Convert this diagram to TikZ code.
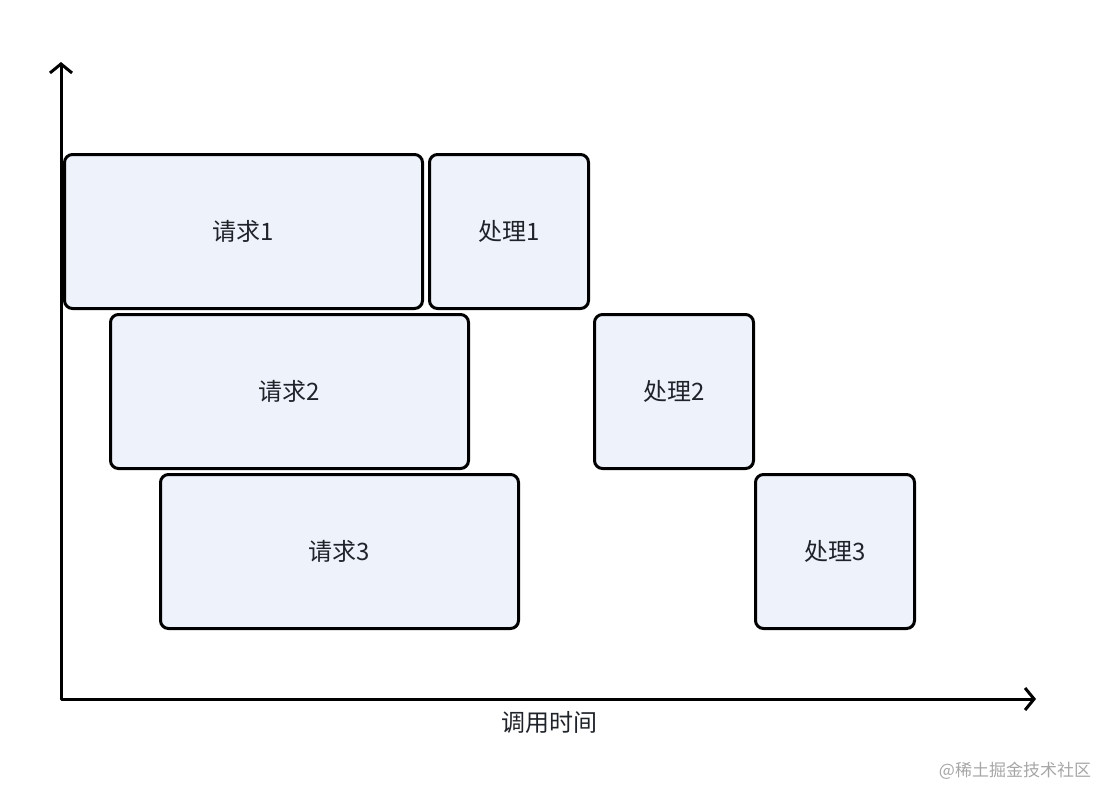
\documentclass[tikz,border=0pt]{standalone}
\usepackage{fontspec}
\setmainfont{Noto Sans CJK SC}
\usetikzlibrary{positioning, arrows.meta}
\definecolor{boxfill}{HTML}{EEF2FA}
\definecolor{ink}{HTML}{1F2329}

\begin{document}
\begin{tikzpicture}[x=1pt, y=-1pt, font=\fontsize{24}{28}\selectfont, text=ink,
  task/.style={rectangle, rounded corners=8pt, draw=black, line width=3pt, fill=boxfill, inner sep=0pt, anchor=north west, minimum height=154pt},
  req/.style={task, minimum width=358pt},
  proc/.style={task, minimum width=159pt},
  axis/.style={{Straight Barb[length=9pt,width=22pt]}-{Straight Barb[length=9pt,width=22pt]}, line width=3pt, line join=round}
]
\useasboundingbox (0,0) rectangle (1102,788);

\node[req] (req1) at (63,153) {请求1};
\node[proc] (proc1) at (428,153) {处理1};
\node[req] (req2) at (109,313) {请求2};
\node[proc] (proc2) at (593,313) {处理2};
\node[req] (req3) at (159,473) {请求3};
\node[proc] (proc3) at (754,473) {处理3};

\coordinate (origin) at (61,699);
\coordinate (ytip) at (61,62);
\coordinate (xtip) at (1036,699);
\draw[axis] (ytip) -- (origin) -- (xtip);

\node (xlabel) at (549,722) {调用时间};
\node[font=\fontsize{17}{20}\selectfont, text=gray!70] (mark) at (1015,771) {@稀土掘金技术社区};

\end{tikzpicture}
\end{document}
